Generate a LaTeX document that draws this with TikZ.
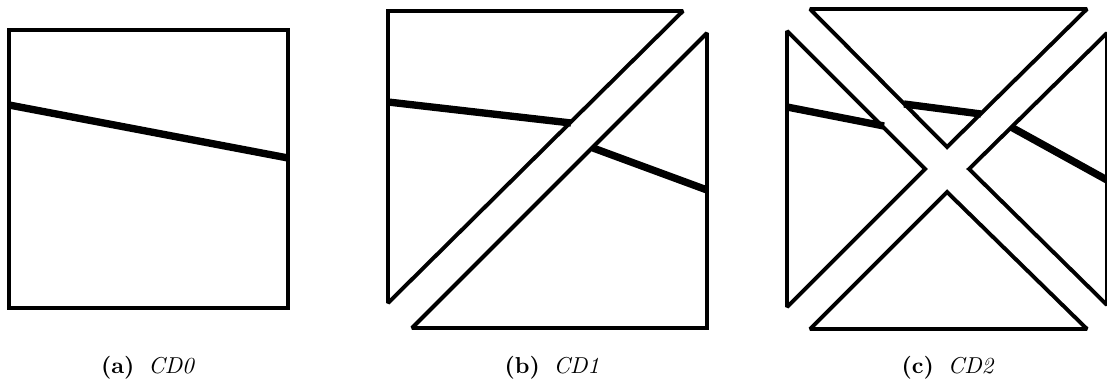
\documentclass[tikz,border=0pt]{standalone}
\usepackage{tikz}
\usetikzlibrary{positioning}
\tikzset{
  cell/.style  ={draw=black, line width=1.7pt, line join=miter, miter limit=2},
  crack/.style ={draw=black, line width=3.2pt},
  subcap/.style={font=\normalsize, inner sep=0pt}
}
\begin{document}
\begin{tikzpicture}[x=0.4348pt, y=-0.4348pt]
    \useasboundingbox (0,0) rectangle (1107,385);
    % (a) uncut cell
    \draw[cell] (9,30) rectangle (288,308);
    \draw[crack] (9,105) -- (288,158);
    \node[subcap] (capa) at (148,368) {\textbf{(a)}\hspace{6pt}\textit{CD0}};
    % (b) one diagonal cut
    \draw[cell] (388,11) -- (683,11) -- (388,303) -- cycle;
    \draw[cell] (707,33) -- (707,328) -- (412,328) -- cycle;
    \draw[crack] (388,102) -- (571,123);
    \draw[crack] (593,148) -- (707,190);
    \node[subcap] (capb) at (552,368) {\textbf{(b)}\hspace{6pt}\textit{CD1}};
    % (c) two diagonal cuts
    \draw[cell] (810,9) -- (1087,9) -- (947,147) -- cycle;
    \draw[cell] (787,31) -- (925,169) -- (787,307) -- cycle;
    \draw[cell] (810,329) -- (947,192) -- (1087,329) -- cycle;
    \draw[cell] (1107,33) -- (969,169) -- (1107,305) -- cycle;
    \draw[crack] (787,107) -- (884,126);
    \draw[crack] (904,104) -- (981,114);
    \draw[crack] (1011,127) -- (1107,180);
    \node[subcap] (capc) at (948,368) {\textbf{(c)}\hspace{6pt}\textit{CD2}};
\end{tikzpicture}
\end{document}
